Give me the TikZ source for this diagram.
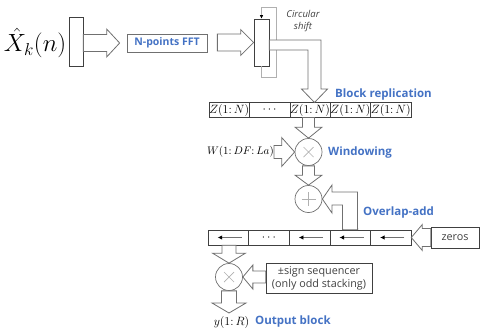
\documentclass[tikz,border=0pt]{standalone}
\usepackage{fontspec}
\newfontfamily\osans{Open Sans}
\usetikzlibrary{calc,arrows.meta}
\definecolor{lblue}{HTML}{4472C4}
\definecolor{agray}{HTML}{707070}
\definecolor{bgray}{HTML}{404040}
\definecolor{cgray}{HTML}{B0B0B0}
\tikzset{
 barrow/.style={draw=agray, fill=white, line width=0.8pt, line join=miter},
 cell/.style={draw=bgray, line width=0.6pt, minimum width=40.4pt, minimum height=14.5pt, inner sep=0pt, font=\fontsize{11.5}{12}\selectfont},
 lbl/.style={text=lblue, font=\osans\bfseries\fontsize{11.5}{13}\selectfont, inner sep=0pt, anchor=west},
 opc/.style={circle, draw=agray, minimum size=27pt, inner sep=0pt, line width=0.7pt},
 sym/.style={draw=cgray, line width=0.7pt},
 barbox/.style={draw=bgray, line width=0.7pt, inner sep=0pt},
 txtbox/.style={draw=bgray, line width=0.7pt, inner sep=0pt, text=bgray, font=\osans\fontsize{10.8}{13}\selectfont, align=center},
 loopst/.style={draw=cgray, line width=0.8pt, -{Latex[length=3.5pt,width=3.5pt,color=black]}},
 cellarr/.style={draw=agray, line width=0.8pt, -{Latex[length=4.5pt,width=4.5pt,color=black]}}
}
% horizontal block arrow: start, tip, shaft half, head half, head length
\newcommand\harrow[5]{%
 \draw[barrow] let \p1=(#1), \p2=(#2), \n1={sign(\x2-\x1)} in
  (\x1,{\y2+#3pt}) -- ({\x2-\n1*#5pt},{\y2+#3pt}) -- ({\x2-\n1*#5pt},{\y2+#4pt}) -- (\x2,\y2)
  -- ({\x2-\n1*#5pt},{\y2-#4pt}) -- ({\x2-\n1*#5pt},{\y2-#3pt}) -- (\x1,{\y2-#3pt}) -- cycle;}
% vertical block arrow
\newcommand\varrow[5]{%
 \draw[barrow] let \p1=(#1), \p2=(#2), \n1={sign(\y2-\y1)} in
  ({\x2+#3pt},\y1) -- ({\x2+#3pt},{\y2-\n1*#5pt}) -- ({\x2+#4pt},{\y2-\n1*#5pt}) -- (\x2,\y2)
  -- ({\x2-#4pt},{\y2-\n1*#5pt}) -- ({\x2-#3pt},{\y2-\n1*#5pt}) -- ({\x2-#3pt},\y1) -- cycle;}
\begin{document}
\begin{tikzpicture}[x=1pt,y=-1pt]
\useasboundingbox (0,0) rectangle (482,335);

% input
\node[font=\fontsize{23}{26}\selectfont, inner sep=0pt] (xin) at (35,43) {$\hat{X}_k(n)$};
\node[barbox, minimum width=14pt, minimum height=49pt] (bar1) at (76,41.5) {};
\node[draw=agray, line width=0.7pt, minimum width=80pt, minimum height=18pt, inner sep=0pt,
      text=lblue, font=\osans\bfseries\fontsize{10.5}{12}\selectfont] (fft) at (167,43) {N-points FFT};
\harrow{bar1.east}{$(fft.west)+(-7,0)$}{8.5}{14}{13}
\node[barbox, minimum width=15pt, minimum height=47pt] (bar2) at (261.5,42.5) {};
\harrow{$(fft.east)+(10,0)$}{bar2.west}{8.5}{13}{13}

% circular shift loop
\draw[loopst] (bar2.south) -- ++(0,11) -| ++(15,-70) -| (bar2.north);
\node[font=\osans\itshape\fontsize{9.5}{11.5}\selectfont, text=bgray, align=center, inner sep=0pt] (cs) at (303,21) {Circular\\shift};

% block replication row
\foreach \i/\t in {1/{$Z(1{:}\,N)$},2/{$\cdots$},3/{$Z(1{:}\,N)$},4/{$Z(1{:}\,N)$},5/{$Z(1{:}\,N)$}}
  \node[cell] (r\i) at ({188.8+40.4*\i},110) {\t};
\draw[barrow] (bar2.east |- 0,40) -- (321,40) -- (321,89) -- (327.5,89) -- (314.5,102.5)
  -- (301.5,89) -- (308,89) -- (308,50) -- (bar2.east |- 0,50) -- cycle;
\node[lbl] (lbr) at (335,95) {Block replication};

% windowing
\node[opc] (m1) at (308.5,152) {};
\draw[sym] ($(m1)+(-5,-5)$) -- ($(m1)+(5,5)$) ($(m1)+(-5,5)$) -- ($(m1)+(5,-5)$);
\varrow{r3.south}{m1.north}{6}{13.5}{11}
\node[font=\fontsize{11}{12}\selectfont, inner sep=0pt, anchor=east] (w) at (274,152) {$W(1{:}\,DF{:}\,La)$};
\harrow{w.east}{m1.west}{6.5}{14.5}{13}
\node[lbl] (lwin) at (328,153) {Windowing};

% overlap-add
\node[opc] (p1) at (308.5,199) {};
\draw[sym] ($(p1)+(-7,0)$) -- ($(p1)+(7,0)$) ($(p1)+(0,-7)$) -- ($(p1)+(0,7)$);
\varrow{m1.south}{p1.north}{6}{13.5}{10}

% output buffer row
\foreach \i/\t in {1/{},2/{$\cdots$},3/{},4/{},5/{}}
  \node[cell, minimum width=40.6pt, minimum height=15pt] (d\i) at ({187.7+40.6*\i},237.5) {\t};
\foreach \i in {1,3,4,5}
  \draw[cellarr] ($(d\i.east)+(-7,0)$) -- ($(d\i.west)+(10,0)$);
\draw[barrow] ($(d4.north)+(7.5,0)$) -- (357.5,192) -- (332,192) -- (332,185) -- (p1.east)
  -- (332,213) -- (332,205) -- (342.5,205) -- ($(d4.north)+(-7.5,0)$) -- cycle;
\node[lbl] (lov) at (363,213) {Overlap-add};

% zeros
\node[txtbox, minimum width=48pt, minimum height=21pt] (zeros) at (455,237.5) {zeros};
\harrow{zeros.west}{d5.east}{9}{13}{11}

% sign sequencer
\node[opc] (m2) at (229,277) {};
\draw[sym] ($(m2)+(-5,-5)$) -- ($(m2)+(5,5)$) ($(m2)+(-5,5)$) -- ($(m2)+(5,-5)$);
\varrow{d1.south}{m2.north}{7}{16.5}{10}
\node[txtbox, minimum width=106pt, minimum height=30pt] (sgn) at (319,278) {±sign sequencer\\(only odd stacking)};
\harrow{sgn.west}{m2.east}{6}{12}{10}

% output
\coordinate (yout) at (229,313);
\varrow{m2.south}{yout}{7.5}{17}{10}
\node[font=\fontsize{11.5}{13}\selectfont, inner sep=0pt] (yo) at (231.5,322) {$y(1{:}\,R)$};
\node[lbl] (lout) at (255,322) {Output block};
\end{tikzpicture}
\end{document}
